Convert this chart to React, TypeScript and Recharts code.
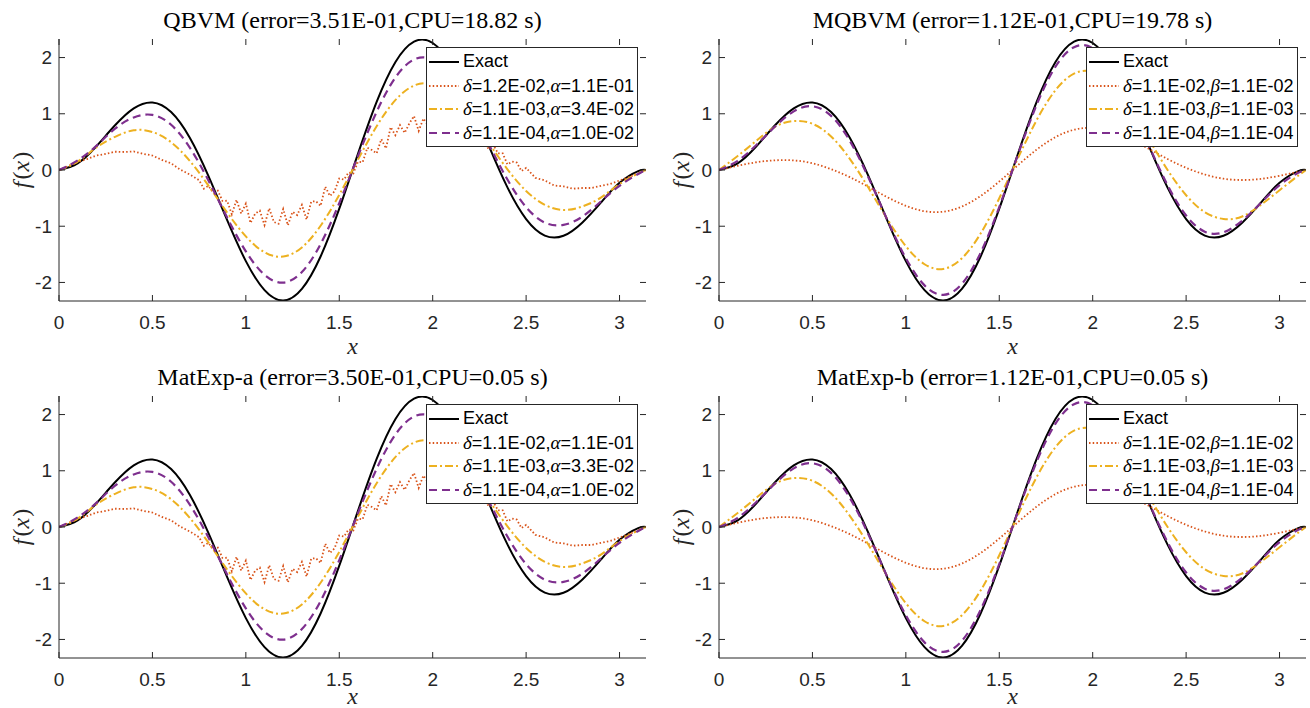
import React from 'react';
import { Legend, Line, LineChart, XAxis, YAxis } from 'recharts';

// sample positions along x (0 .. pi)
const X_COARSE = [
  0, 0.1, 0.2, 0.3, 0.4, 0.5, 0.6, 0.7, 0.8, 0.9, 1.0, 1.1, 1.2, 1.3, 1.4, 1.5,
  1.6, 1.7, 1.8, 1.9, 2.0, 2.1, 2.2, 2.3, 2.4, 2.5, 2.6, 2.7, 2.8, 2.9, 3.0, 3.1,
  3.1416,
];
// denser sampling where the QBVM / MatExp-a orange curve is noisy
const X_NOISY = [
  0, 0.05, 0.1, 0.15, 0.2, 0.25, 0.3, 0.35, 0.4, 0.45, 0.5, 0.55, 0.6, 0.65,
  0.7, 0.75, 0.775, 0.8, 0.825, 0.85, 0.875, 0.9, 0.925, 0.95, 0.975, 1.0,
  1.025, 1.05, 1.075, 1.1, 1.125, 1.15, 1.175, 1.2, 1.225, 1.25, 1.275, 1.3,
  1.325, 1.35, 1.375, 1.4, 1.425, 1.45, 1.475, 1.5, 1.525, 1.55, 1.575, 1.6,
  1.625, 1.65, 1.675, 1.7, 1.725, 1.75, 1.775, 1.8, 1.825, 1.85, 1.875, 1.9,
  1.925, 1.95, 1.975, 2.0, 2.025, 2.05, 2.075, 2.1, 2.125, 2.15, 2.175, 2.2,
  2.225, 2.25, 2.275, 2.3, 2.325, 2.35, 2.375, 2.4, 2.425, 2.45, 2.475, 2.5,
  2.55, 2.6, 2.65, 2.7, 2.75, 2.8, 2.85, 2.9, 2.95, 3.0, 3.05, 3.1, 3.1416,
];

const EXACT = [
  0, 0.118, 0.422, 0.795, 1.096, 1.201, 1.03, 0.573, -0.109, -0.893, -1.621,
  -2.137, -2.321, -2.115, -1.539, -0.688, 0.287, 1.211, 1.917, 2.283, 2.259,
  1.869, 1.212, 0.432, -0.31, -0.873, -1.166, -1.17, -0.937, -0.58, -0.228,
  -0.021, 0,
];

// QBVM / MatExp-a
const QBVM_ORANGE = [
  0, 0.07, 0.142, 0.195, 0.258, 0.286, 0.325, 0.32, 0.33, 0.288, 0.258, 0.18,
  0.118, 0.005, -0.08, -0.181, -0.332, -0.282, -0.4, -0.366, -0.549, -0.547,
  -0.788, -0.53, -0.774, -0.598, -0.942, -0.775, -0.724, -0.981, -0.681,
  -0.926, -0.956, -0.695, -0.984, -0.744, -0.801, -0.621, -0.882, -0.56,
  -0.555, -0.639, -0.296, -0.462, -0.379, -0.15, -0.169, -0.044, -0.062, 0.147,
  0.137, 0.395, 0.355, 0.296, 0.55, 0.384, 0.762, 0.619, 0.799, 0.66, 0.828,
  0.961, 0.695, 0.914, 0.8, 1.038, 0.742, 0.866, 0.926, 0.667, 0.833, 0.696,
  0.774, 0.592, 0.658, 0.438, 0.509, 0.364, 0.442, 0.294, 0.294, 0.098, 0.149,
  0.131, -0.018, 0.038, -0.14, -0.185, -0.275, -0.292, -0.333, -0.32, -0.32,
  -0.282, -0.248, -0.186, -0.128, -0.057, 0,
];
const QBVM_YELLOW = [
  0, 0.15, 0.4, 0.59, 0.707, 0.676, 0.494, 0.162, -0.279, -0.757, -1.181,
  -1.464, -1.539, -1.377, -0.992, -0.441, 0.184, 0.778, 1.242, 1.501, 1.523,
  1.32, 0.945, 0.478, 0.012, -0.373, -0.619, -0.711, -0.65, -0.49, -0.25,
  -0.06, 0,
];
const QBVM_PURPLE = [
  0, 0.17, 0.43, 0.736, 0.935, 0.98, 0.804, 0.398, -0.188, -0.847, -1.448,
  -1.865, -2.002, -1.815, -1.318, -0.589, 0.246, 1.036, 1.643, 1.965, 1.96,
  1.65, 1.111, 0.46, -0.17, -0.661, -0.936, -0.977, -0.832, -0.56, -0.28,
  -0.07, 0,
];

// MQBVM / MatExp-b
const MQBVM_ORANGE = [
  0, 0.075, 0.138, 0.172, 0.17, 0.12, 0.015, -0.127, -0.301, -0.482, -0.637,
  -0.733, -0.742, -0.65, -0.463, -0.205, 0.086, 0.363, 0.583, 0.716, 0.748,
  0.686, 0.552, 0.377, 0.197, 0.039, -0.08, -0.155, -0.178, -0.158, -0.102,
  -0.031, 0,
];
const MQBVM_YELLOW = [
  0, 0.25, 0.52, 0.769, 0.871, 0.822, 0.596, 0.199, -0.317, -0.869, -1.355,
  -1.676, -1.759, -1.571, -1.131, -0.503, 0.21, 0.887, 1.416, 1.714, 1.742,
  1.514, 1.085, 0.548, 0.005, -0.449, -0.75, -0.871, -0.827, -0.62, -0.36,
  -0.1, 0,
];
const MQBVM_PURPLE = [
  0, 0.163, 0.444, 0.774, 1.043, 1.133, 0.963, 0.52, -0.136, -0.882, -1.569,
  -2.052, -2.222, -2.024, -1.474, -0.659, 0.275, 1.16, 1.834, 2.185, 2.166,
  1.802, 1.184, 0.443, -0.267, -0.81, -1.097, -1.108, -0.901, -0.587, -0.268,
  -0.051, 0,
];

const X_TICKS = [0, 0.5, 1, 1.5, 2, 2.5, 3];
const Y_TICKS = [-2, -1, 0, 1, 2];
const X_DOMAIN = [0, 3.1416];
const Y_DOMAIN = [-2.33, 2.33];

// legend values: [delta, alpha/beta]
const QBVM_LEGEND = [
  ['1.2E-02', '1.1E-01'],
  ['1.1E-03', '3.4E-02'],
  ['1.1E-04', '1.0E-02'],
];
const MATEXP_A_LEGEND = [
  ['1.1E-02', '1.1E-01'],
  ['1.1E-03', '3.3E-02'],
  ['1.1E-04', '1.0E-02'],
];
const MQBVM_LEGEND = [
  ['1.1E-02', '1.1E-02'],
  ['1.1E-03', '1.1E-03'],
  ['1.1E-04', '1.1E-04'],
];

const AXIS = '#262626';
const SANS = '"Liberation Sans", Arial, Helvetica, sans-serif';
const SERIF = '"Liberation Serif", "Times New Roman", serif';

const LINE_STYLES = [
  { color: '#000000', width: 2, dash: undefined },
  { color: '#D95319', width: 1.8, dash: '1.5 2.2' },
  { color: '#EDB120', width: 2, dash: '8 3 2 3' },
  { color: '#7E2F8E', width: 2.2, dash: '8 5' },
];

const Y_AXIS_W = 59;
const PLOT_W = 587;
const PLOT_H = 262;
const MARGIN_TOP = 39;
const X_AXIS_H = 61;
const CHART_H = MARGIN_TOP + PLOT_H + X_AXIS_H;
const TICK_LEN = 6;

const toRows = (xs: number[], ys: number[]) =>
  xs.map((x, i) => ({ x, y: ys[i] }));

const XTick = (props: any) => {
  const { x, y, payload } = props;
  return (
    <g>
      <line x1={x} y1={y} x2={x} y2={y - TICK_LEN} stroke={AXIS} />
      <line
        x1={x}
        y1={y - PLOT_H}
        x2={x}
        y2={y - PLOT_H + TICK_LEN}
        stroke={AXIS}
      />
      <text
        x={x}
        y={y + 21}
        textAnchor='middle'
        dominantBaseline='central'
        fontFamily={SANS}
        fontSize={19}
        fill={AXIS}
      >
        {payload.value}
      </text>
    </g>
  );
};

const YTick = (props: any) => {
  const { x, y, payload } = props;
  return (
    <g>
      <line x1={x} y1={y} x2={x + TICK_LEN} y2={y} stroke={AXIS} />
      <line
        x1={x + PLOT_W}
        y1={y}
        x2={x + PLOT_W - TICK_LEN}
        y2={y}
        stroke={AXIS}
      />
      <text
        x={x - 7}
        y={y}
        textAnchor='end'
        dominantBaseline='central'
        fontFamily={SANS}
        fontSize={19}
        fill={AXIS}
      >
        {payload.value}
      </text>
    </g>
  );
};

const XLabel = ({ shift = 0 }: { shift?: number }) => (
  <text
    x={Y_AXIS_W + PLOT_W / 2}
    y={MARGIN_TOP + PLOT_H + 45 + shift}
    textAnchor='middle'
    dominantBaseline='central'
    fontFamily={SERIF}
    fontStyle='italic'
    fontSize={24}
    fill={AXIS}
  >
    x
  </text>
);

const FxLabel = () => {
  const cx = 21;
  const cy = MARGIN_TOP + PLOT_H / 2;
  return (
    <text
      x={cx}
      y={cy}
      transform={`rotate(-90 ${cx} ${cy})`}
      textAnchor='middle'
      dominantBaseline='central'
      fontFamily={SERIF}
      fontSize={24}
      fill={AXIS}
    >
      <tspan fontStyle='italic'>f</tspan>
      <tspan dx={2}>(</tspan>
      <tspan fontStyle='italic'>x</tspan>
      <tspan dx={1}>)</tspan>
    </text>
  );
};

const Greek = ({ children }: { children: React.ReactNode }) => (
  <span style={{ fontFamily: SERIF, fontStyle: 'italic', fontSize: 19 }}>
    {children}
  </span>
);

const LegendBox = ({ param, values }: { param: string; values: string[][] }) => {
  const labels: React.ReactNode[] = [
    'Exact',
    ...values.map(([d, p]) => (
      <>
        <Greek>δ</Greek>={d},<Greek>{param}</Greek>={p}
      </>
    )),
  ];
  return (
    <div
      style={{
        boxSizing: 'border-box',
        width: 212,
        background: '#ffffff',
        border: `1px solid ${AXIS}`,
        padding: '2px 0 1px 0',
        fontFamily: SANS,
        fontSize: 18,
        color: '#000000',
      }}
    >
      {labels.map((label, i) => (
        <div
          key={i}
          style={{
            display: 'flex',
            alignItems: 'center',
            height: 23.7,
            whiteSpace: 'nowrap',
          }}
        >
          <svg width={36} height={10} style={{ flex: 'none' }}>
            <line
              x1={2}
              x2={32}
              y1={5}
              y2={5}
              stroke={LINE_STYLES[i].color}
              strokeWidth={LINE_STYLES[i].width}
              strokeDasharray={LINE_STYLES[i].dash}
            />
          </svg>
          <span>{label}</span>
        </div>
      ))}
    </div>
  );
};

interface PanelProps {
  left: number;
  top: number;
  width: number;
  labelShift: number;
  title: string;
  param: string;
  legend: string[][];
  orangeX: number[];
  orange: number[];
  orangeType: 'linear' | 'natural';
  yellow: number[];
  purple: number[];
}

const Panel: React.FC<PanelProps> = ({
  left,
  top,
  width,
  labelShift,
  title,
  param,
  legend,
  orangeX,
  orange,
  orangeType,
  yellow,
  purple,
}) => {
  const plotRight = Y_AXIS_W + PLOT_W;
  const series = [
    { key: 'exact', data: toRows(X_COARSE, EXACT), type: 'natural' },
    { key: 'orange', data: toRows(orangeX, orange), type: orangeType },
    { key: 'yellow', data: toRows(X_COARSE, yellow), type: 'natural' },
    { key: 'purple', data: toRows(X_COARSE, purple), type: 'natural' },
  ];

  return (
    <div style={{ position: 'absolute', left, top, width, height: CHART_H }}>
      <div
        style={{
          position: 'absolute',
          left: Y_AXIS_W,
          top: 8,
          width: PLOT_W,
          textAlign: 'center',
          fontFamily: SERIF,
          fontSize: 24,
          lineHeight: '24px',
          color: '#000000',
          whiteSpace: 'nowrap',
        }}
      >
        {title}
      </div>
      <LineChart
        width={width}
        height={CHART_H}
        margin={{ top: MARGIN_TOP, right: width - plotRight, bottom: 0, left: 0 }}
      >
        <XAxis
          type='number'
          dataKey='x'
          domain={X_DOMAIN}
          ticks={X_TICKS}
          interval={0}
          allowDataOverflow
          height={X_AXIS_H}
          tickSize={0}
          tickMargin={0}
          tickLine={false}
          tick={XTick}
          axisLine={{ stroke: AXIS }}
          label={<XLabel shift={labelShift} />}
        />
        <YAxis
          type='number'
          domain={Y_DOMAIN}
          ticks={Y_TICKS}
          interval={0}
          allowDataOverflow
          width={Y_AXIS_W}
          tickSize={0}
          tickMargin={0}
          tickLine={false}
          tick={YTick}
          axisLine={{ stroke: AXIS }}
          label={<FxLabel />}
        />
        <XAxis
          xAxisId='top'
          orientation='top'
          type='number'
          domain={X_DOMAIN}
          height={0}
          tick={false}
          tickLine={false}
          axisLine={{ stroke: AXIS }}
        />
        <YAxis
          yAxisId='right'
          orientation='right'
          type='number'
          domain={Y_DOMAIN}
          width={0}
          tick={false}
          tickLine={false}
          axisLine={{ stroke: AXIS }}
        />
        {series.map((s, i) => (
          <Line
            key={s.key}
            data={s.data}
            dataKey='y'
            type={s.type as any}
            stroke={LINE_STYLES[i].color}
            strokeWidth={LINE_STYLES[i].width}
            strokeDasharray={LINE_STYLES[i].dash}
            dot={false}
            activeDot={false}
            isAnimationActive={false}
          />
        ))}
        <Legend
          layout='vertical'
          align='center'
          verticalAlign='middle'
          wrapperStyle={{ left: plotRight - 220, top: MARGIN_TOP + 8, width: 212 }}
          content={() => <LegendBox param={param} values={legend} />}
        />
      </LineChart>
    </div>
  );
};

const PANELS: PanelProps[] = [
  {
    left: 0,
    top: 0,
    width: 660,
    labelShift: 0,
    title: 'QBVM (error=3.51E-01,CPU=18.82 s)',
    param: 'α',
    legend: QBVM_LEGEND,
    orangeX: X_NOISY,
    orange: QBVM_ORANGE,
    orangeType: 'linear',
    yellow: QBVM_YELLOW,
    purple: QBVM_PURPLE,
  },
  {
    left: 660,
    top: 0,
    width: 650,
    labelShift: 0,
    title: 'MQBVM (error=1.12E-01,CPU=19.78 s)',
    param: 'β',
    legend: MQBVM_LEGEND,
    orangeX: X_COARSE,
    orange: MQBVM_ORANGE,
    orangeType: 'natural',
    yellow: MQBVM_YELLOW,
    purple: MQBVM_PURPLE,
  },
  {
    left: 0,
    top: 357,
    width: 660,
    labelShift: -7,
    title: 'MatExp-a (error=3.50E-01,CPU=0.05 s)',
    param: 'α',
    legend: MATEXP_A_LEGEND,
    orangeX: X_NOISY,
    orange: QBVM_ORANGE,
    orangeType: 'linear',
    yellow: QBVM_YELLOW,
    purple: QBVM_PURPLE,
  },
  {
    left: 660,
    top: 357,
    width: 650,
    labelShift: -7,
    title: 'MatExp-b (error=1.12E-01,CPU=0.05 s)',
    param: 'β',
    legend: MQBVM_LEGEND,
    orangeX: X_COARSE,
    orange: MQBVM_ORANGE,
    orangeType: 'natural',
    yellow: MQBVM_YELLOW,
    purple: MQBVM_PURPLE,
  },
];

export default function App() {
  return (
    <div
      style={{
        position: 'absolute',
        left: 0,
        top: 0,
        width: 1310,
        height: 708,
        overflow: 'hidden',
        background: '#ffffff',
      }}
    >
      {PANELS.map(p => (
        <Panel key={p.title} {...p} />
      ))}
    </div>
  );
}
